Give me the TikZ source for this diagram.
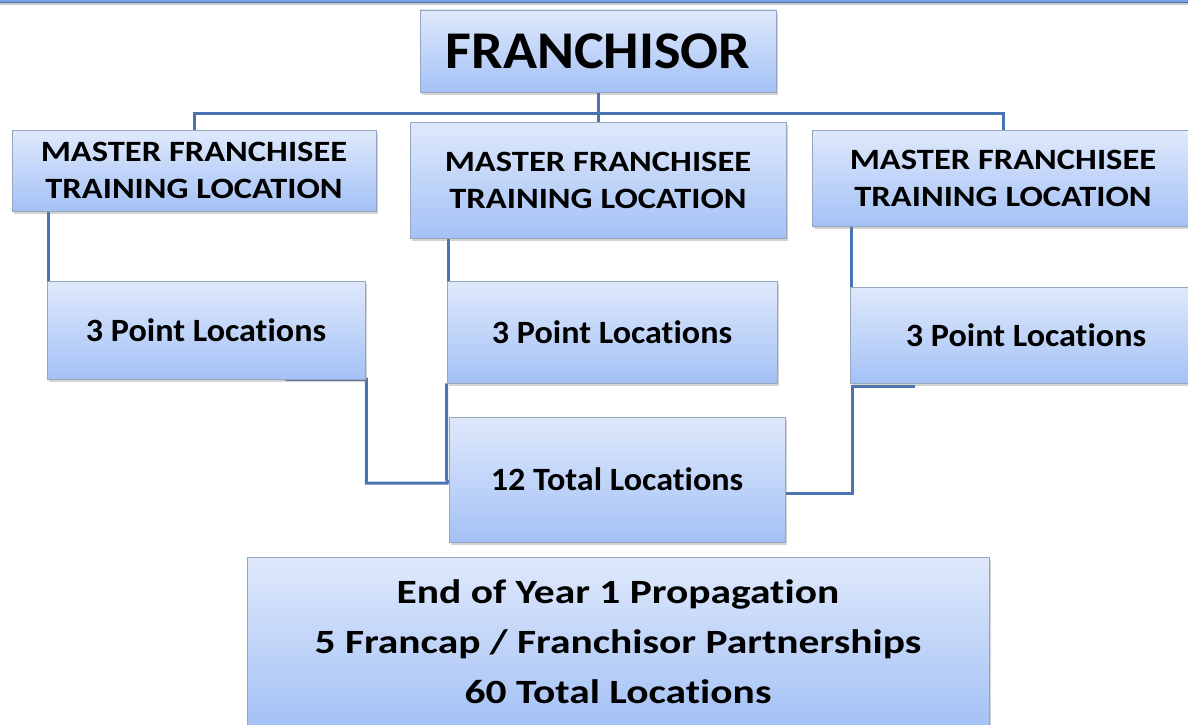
\documentclass[tikz,border=0pt]{standalone}
\usepackage{fontspec}
\setmainfont{Carlito}[Ligatures=NoCommon]
\newfontfamily\titlefont{Carlito}[Ligatures=NoCommon,FakeStretch=1.06]
\newfontfamily\masterfont{Carlito}[Ligatures=NoCommon,FakeStretch=1.17]
\newfontfamily\pointfont{Carlito}[Ligatures=NoCommon,FakeStretch=1.05]
\newfontfamily\yearfont{Carlito}[Ligatures=NoCommon,FakeStretch=1.22]
\usetikzlibrary{positioning,calc,shadows,backgrounds}
\definecolor{BoxTop}{RGB}{223,233,251}
\definecolor{BoxBottom}{RGB}{164,193,246}
\definecolor{BoxEdge}{RGB}{150,166,192}
\definecolor{LinkBlue}{RGB}{72,116,178}
\definecolor{BarBlue}{RGB}{120,160,228}
\tikzset{
	box/.style={draw=BoxEdge,line width=0.8pt,top color=BoxTop,bottom color=BoxBottom,
		drop shadow={shadow xshift=2pt,shadow yshift=-3pt,opacity=0.35},
		inner sep=0pt,align=center},
	link/.style={draw=LinkBlue,line width=3pt},
	master/.style={box,font=\masterfont\bfseries\fontsize{29.5}{37}\selectfont},
	point/.style={box,font=\pointfont\bfseries\fontsize{32.5}{38}\selectfont},
}

\begin{document}
\begin{tikzpicture}[x=1pt,y=-1pt]
	\useasboundingbox (0,0) rectangle (1188,725);
	% strip along the top edge
	\fill[BarBlue,draw=LinkBlue,line width=0.8pt,drop shadow={shadow xshift=0pt,shadow yshift=-3pt,opacity=0.4}] (-10,-20) rectangle (1198,2);

	\node[box,minimum width=356,minimum height=82,font=\titlefont\bfseries\fontsize{53}{60}\selectfont] (fr) at (598,51) {FRANCHISOR};
	\node[master,minimum width=364,minimum height=81] (lm) at (194,170.5) {MASTER FRANCHISEE\\TRAINING LOCATION};
	\node[master,minimum width=376,minimum height=116] (mm) at (598,180) {MASTER FRANCHISEE\\TRAINING LOCATION};
	\node[master,minimum width=382,minimum height=96] (rm) at (1003,178) {MASTER FRANCHISEE\\TRAINING LOCATION};
	\node[point,minimum width=318,minimum height=98] (lp) at (206,330) {3 Point Locations};
	\node[point,minimum width=330,minimum height=102] (mp) at (612,332) {3 Point Locations};
	\node[point,minimum width=352,minimum height=96] (rp) at (1026,335) {3 Point Locations};
	\node[point,minimum width=336,minimum height=125] (tot) at (617,479.5) {12 Total Locations};
	\node[box,minimum width=742,minimum height=170,font=\yearfont\bfseries\fontsize{34}{50}\selectfont] (yr) at (618,642)
		{End of Year 1 Propagation\\5 Francap / Franchisor Partnerships\\60 Total Locations};

	\begin{scope}[on background layer]
		\coordinate (hub) at ($(fr.south)+(0,21)$);
		\draw[link] (fr.south) -- (mm.north);
		\draw[link] (lm.north) |- (hub) -| (rm.north);
		\foreach \m/\p in {lm/lp,mm/mp,rm/rp}
			\draw[link] ([shift={(1.5,0)}]\p.west |- \m.south) -- ([shift={(1.5,0)}]\p.west);
		\draw[link] ($(lp.south west)!0.75!(lp.south east)$) -- ([shift={(1,0)}]lp.south east) |- ([shift={(0,3.5)}]tot.west);
		\draw[link] (mp.south west) -- (mp.south west |- tot.west) -- ([shift={(0,3.5)}]tot.west);
		\draw[link] ([shift={(65,3)}]rp.south west) -- ([shift={(3,3)}]rp.south west) |- ([shift={(-5,14)}]tot.east);
	\end{scope}
\end{tikzpicture}
\end{document}
